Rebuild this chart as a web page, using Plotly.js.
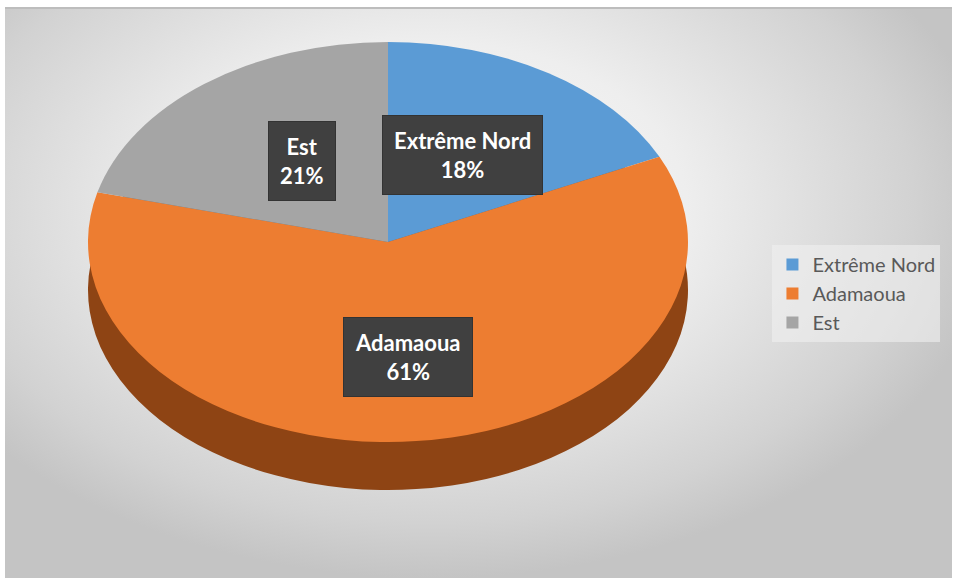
<!DOCTYPE html>
<html>
<head>
<meta charset="utf-8">
<script src="https://cdn.plot.ly/plotly-3.0.1.min.js"></script>
<style>
  html, body { margin: 0; padding: 0; background: #ffffff; }
  #wrap { position: relative; width: 956px; height: 581px; overflow: hidden; }
  #bg { position: absolute; left: 5px; top: 7px; width: 947px; height: 571px;
        background: radial-gradient(ellipse 60% 65% at 45% 35%, #fafafa 0%, #eeeeee 45%, #d2d2d2 85%, #c4c4c4 100%);
        border-top: 2px solid #bdbdbd; box-sizing: border-box; }
  #chart { position: absolute; left: 0; top: 0; width: 956px; height: 581px; }
  #chart .pielayer { transform: translate(388px, 0px) scale(1.5, 1) translate(-388px, 0px); }
</style>
</head>
<body>
<div id="wrap">
  <div id="bg"></div>
  <div id="chart"></div>
</div>
<script>
const categories = ["Extrême Nord", "Adamaoua", "Est"];
const values = [18, 61, 21];
const colors = ["#5B9BD5", "#ED7D31", "#A5A5A5"];
const sideColors = ["#3E6E9C", "#8E4414", "#6E6E6E"];

const W = 956, H = 581;
const cx = 388, cy = 242, R = 200, depth = 48;
function dom(cxp, cyp, r) {
  return { x: [(cxp - r) / W, (cxp + r) / W], y: [1 - (cyp + r) / H, 1 - (cyp - r) / H] };
}

const sideTrace = {
  type: "pie", labels: categories, values: values, sort: false,
  direction: "clockwise", rotation: 0,
  marker: { colors: sideColors, line: { width: 0 } },
  textinfo: "none", hoverinfo: "skip", showlegend: false,
  domain: dom(cx, cy + depth, R)
};
const topTrace = {
  type: "pie", labels: categories, values: values, sort: false,
  direction: "clockwise", rotation: 0,
  marker: { colors: colors, line: { width: 0 } },
  textinfo: "none", hoverinfo: "label+percent",
  domain: dom(cx, cy, R)
};

const labelPos = [[462, 155], [408, 357], [302, 161]];
const annotations = categories.map((c, i) => ({
  x: labelPos[i][0] / W, y: 1 - labelPos[i][1] / H, xref: "paper", yref: "paper",
  xanchor: "center", yanchor: "middle",
  text: "<b>" + c + "<br>" + values[i] + "%</b>",
  showarrow: false, align: "center",
  font: { family: "Lato, 'Open Sans', sans-serif", size: 22, color: "#ffffff" },
  bgcolor: "#404040", borderpad: 11, bordercolor: "#333333", borderwidth: 1
}));

const layout = {
  width: W, height: H,
  margin: { l: 0, r: 0, t: 0, b: 0 },
  paper_bgcolor: "rgba(0,0,0,0)", plot_bgcolor: "rgba(0,0,0,0)",
  showlegend: true,
  legend: {
    x: 0.808, y: 0.495, xanchor: "left", yanchor: "middle",
    bgcolor: "rgba(240,240,240,0.6)", borderwidth: 0,
    font: { family: "Lato, 'Open Sans', sans-serif", size: 20, color: "#595959" },
    itemclick: false
  },
  annotations: annotations
};

Plotly.newPlot("chart", [sideTrace, topTrace], layout, { displayModeBar: false, staticPlot: true });
</script>
</body>
</html>
